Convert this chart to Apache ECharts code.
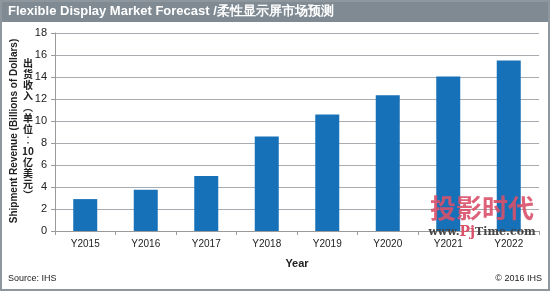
<!DOCTYPE html>
<html>
<head>
<meta charset="utf-8">
<script src="https://cdn.jsdelivr.net/npm/echarts@6/dist/echarts.min.js"></script>
<style>html,body{margin:0;padding:0;background:#fff}#c{width:550px;height:291px}</style>
</head>
<body>
<div id="c"></div>
<script>
var categories = ['Y2015','Y2016','Y2017','Y2018','Y2019','Y2020','Y2021','Y2022'];
var revenue = [2.9, 3.75, 5.0, 8.6, 10.6, 12.35, 14.05, 15.5];
var yTicks = {min: 0, max: 18, interval: 2};
var titleText = 'Flexible Display Market Forecast /柔性显示屏市场预测';
var yNameEn = 'Shipment Revenue (Billions of Dollars)';
var yNameCnParts = ['出','货','收','入','︵','单','位','︰','10','亿','美','元','︶'];

var chart = echarts.init(document.getElementById('c'), null, {renderer: 'canvas'});
var font = '"Liberation Sans", Arial, sans-serif';
chart.setOption({
  animation: false,
  backgroundColor: '#fff',
  grid: {left: 55, right: 11, top: 33, bottom: 60, containLabel: false},
  xAxis: {
    type: 'category',
    data: categories,
    name: 'Year',
    nameLocation: 'middle',
    nameGap: 27,
    nameTextStyle: {fontFamily: font, fontSize: 11, fontWeight: 'bold', color: '#222'},
    axisLine: {lineStyle: {color: '#9a9a9a'}},
    axisTick: {show: true, alignWithLabel: false, length: 4, lineStyle: {color: '#9a9a9a'}},
    axisLabel: {fontFamily: font, fontSize: 10, color: '#222', margin: 8}
  },
  yAxis: {
    type: 'value',
    min: yTicks.min, max: yTicks.max, interval: yTicks.interval,
    axisLine: {show: true, lineStyle: {color: '#9a9a9a'}},
    axisTick: {show: true, length: 4, lineStyle: {color: '#9a9a9a'}},
    axisLabel: {fontFamily: font, fontSize: 11, color: '#222', margin: 8},
    splitLine: {lineStyle: {color: '#a8acb0', width: 1}}
  },
  series: [{
    type: 'bar',
    data: revenue,
    barWidth: 24,
    itemStyle: {color: '#1771b9'}
  }],
  graphic: [
    {type: 'rect', shape: {x: 0, y: 0, width: 550, height: 22}, style: {fill: '#7f8a93'}, z: 10},
    {type: 'text', x: 8, y: 11, style: {text: titleText, fill: '#fff', font: 'bold 13px ' + font, textVerticalAlign: 'middle'}, z: 11},
    {type: 'rect', shape: {x: 1, y: 1, width: 548, height: 289}, style: {fill: 'none', stroke: '#8f979e', lineWidth: 2}, z: 12},
    {type: 'text', x: 14, y: 131, rotation: Math.PI / 2, style: {text: yNameEn, fill: '#222', font: 'bold 10px ' + font, textAlign: 'center', textVerticalAlign: 'middle'}, z: 5},
    {type: 'text', x: 28, y: 129, style: {text: yNameCnParts.join('\n'), fill: '#222', font: 'bold 10px "Noto Sans CJK SC", sans-serif', textAlign: 'center', textVerticalAlign: 'middle', lineHeight: 11}, z: 5},
    {type: 'text', x: 8, y: 279, style: {text: 'Source: IHS', fill: '#222', font: '9px ' + font, textVerticalAlign: 'middle'}, z: 5},
    {type: 'text', x: 542, y: 279, style: {text: '© 2016 IHS', fill: '#222', font: '9px ' + font, textAlign: 'right', textVerticalAlign: 'middle'}, z: 5},
    {type: 'text', x: 482, y: 208, style: {text: '投影时代', fill: '#d8506a', font: 'bold 26px "Noto Sans CJK SC", sans-serif', textAlign: 'center', textVerticalAlign: 'middle', opacity: 0.9}, z: 6},
    {type: 'text', x: 482, y: 232, style: {rich: {a: {fill: '#444', font: 'bold 11px "DejaVu Serif", serif'}, b: {fill: '#d8506a', font: 'bold 14px "DejaVu Serif", serif'}}, text: '{a|www.}{b|Pj}{a|Time.com}', textAlign: 'center', textVerticalAlign: 'middle'}, z: 6}
  ]
});
</script>
</body>
</html>
